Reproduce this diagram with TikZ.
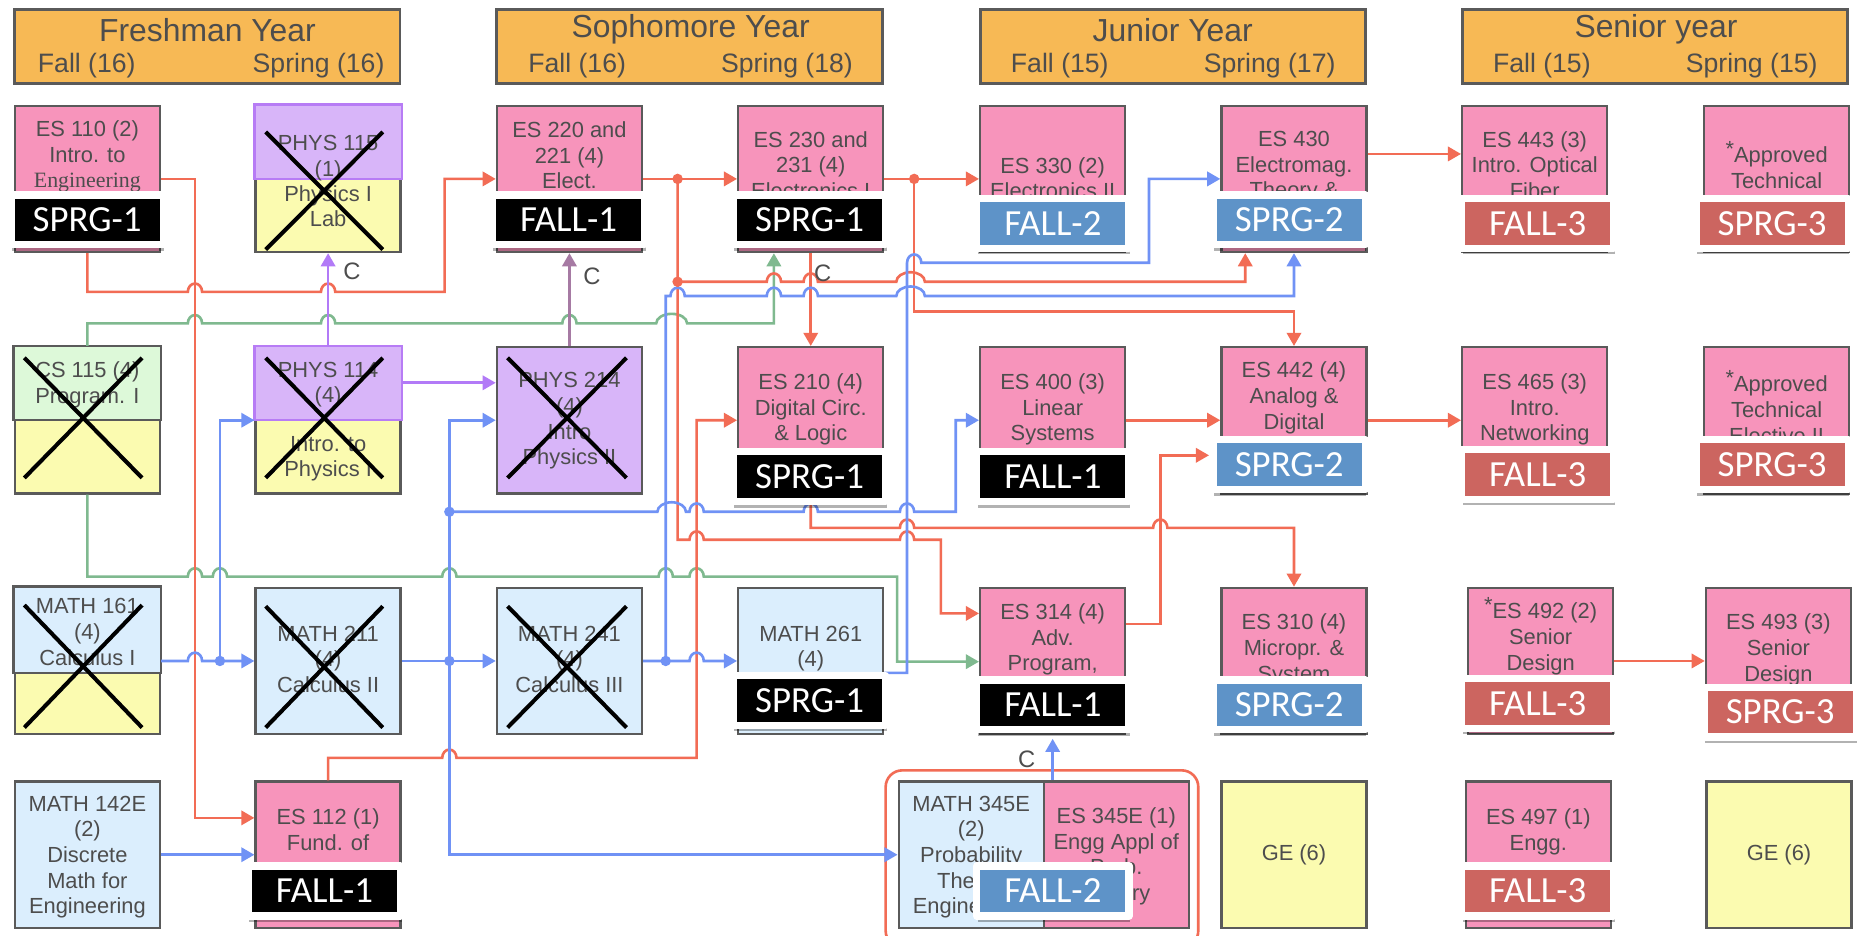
\documentclass[tikz,border=0pt]{standalone}
\usepackage{fontspec}
\setmainfont{Liberation Sans}
\newfontfamily\etiq{Carlito}
\newfontfamily\fserif{Liberation Serif}
\usepackage{xcolor}
\usetikzlibrary{arrows.meta,shadows}

\definecolor{naranja}{HTML}{F7B955}
\definecolor{rosa}{HTML}{F794BB}
\definecolor{celeste}{HTML}{DBEEFD}
\definecolor{amarillo}{HTML}{FBFBB0}
\definecolor{verdeclaro}{HTML}{DDF9D9}
\definecolor{lila}{HTML}{D8B5F9}
\definecolor{borde}{HTML}{5A5A5A}
\definecolor{bordelila}{HTML}{B77CF5}
\definecolor{gristxt}{HTML}{4D4D4D}
\definecolor{rojo}{HTML}{F26C55}
\definecolor{azul}{HTML}{7092F5}
\definecolor{verde}{HTML}{7FB98F}
\definecolor{morado}{HTML}{B27AF7}
\definecolor{malva}{HTML}{A67AA3}
\definecolor{tagazul}{HTML}{5E93C8}
\definecolor{tagrojo}{HTML}{CC6560}

\begin{document}
\begin{tikzpicture}[x=0.5pt,y=-0.5pt,
  >={Triangle[length=5.5pt,width=6pt]},
  caja/.style={draw=borde, line width=1pt, fill=#1, minimum width=61pt,
    minimum height=61.5pt, inner sep=0pt},
  encab/.style={draw=borde, line width=1.2pt, fill=naranja,
    minimum width=162pt, minimum height=31pt, inner sep=0pt},
  txt/.style={anchor=north, align=center, inner sep=0pt, text=gristxt,
    font=\fontsize{9.2}{10.8}\selectfont},
  tit/.style={inner sep=0pt, text=gristxt, font=\fontsize{13.4}{15}\selectfont},
  sub/.style={inner sep=0pt, text=gristxt, font=\fontsize{11.2}{13}\selectfont},
  etiqueta/.style={fill=#1, draw=white, line width=3pt, line join=round,
    text=white, font=\etiq\fontsize{15.5}{17}\selectfont,
    minimum width=64pt, minimum height=21pt, inner sep=0pt,
    drop shadow={shadow xshift=0.4pt, shadow yshift=-2.5pt, opacity=0.3, fill=black}},
  ce/.style={inner sep=0pt, text=gristxt, font=\fontsize{10}{12}\selectfont},
  cruz/.style={line width=1.7pt, black},
  linea/.style={line width=1.1pt, #1},
  salto/.style 2 args={insert path={-- ({#1-6},#2)
    arc[start angle=180, end angle=0, x radius=3pt, y radius=3.5pt]}},
  saltoancho/.style n args={3}{insert path={-- ({#1-2*#3},#2)
    arc[start angle=180, end angle=0, x radius=#3pt, y radius=4pt]}}]

  \useasboundingbox (0,0) rectangle (1568,787);
  \fill[white] (0,0) rectangle (1568,787);

  % Encabezados
  \node[encab] (fresh) at (174.5,39) {};
  \node[tit] (fresh-t) at (174.5,25) {Freshman Year};
  \node[sub] (fresh-f) at (73,55) {Fall (16)};
  \node[sub] (fresh-s) at (268,55) {Spring (16)};
  \node[encab] (soph) at (580,39) {};
  \node[tit] (soph-t) at (581,25) {Sophomore Year};
  \node[sub] (soph-f) at (485.5,55) {Fall (16)};
  \node[sub] (soph-s) at (662,55) {Spring (18)};
  \node[encab] (junior) at (986.5,39) {};
  \node[tit] (junior-t) at (986.5,25) {Junior Year};
  \node[sub] (junior-f) at (891.5,55) {Fall (15)};
  \node[sub] (junior-s) at (1068,55) {Spring (17)};
  \node[encab] (senior) at (1392,39) {};
  \node[tit] (senior-t) at (1393,25) {Senior year};
  \node[sub] (senior-f) at (1297,55) {Fall (15)};
  \node[sub] (senior-s) at (1473.5,55) {Spring (15)};

  % Cajas, primer año
  \node[caja=rosa] (es110) at (73.5,150.5) {};
  \node[txt] (es110-t) at (73.5,101) {ES 110 (2)\\Intro. to\\{\fserif Engineering}};
  \node[caja=amarillo] (phys115) at (276,150.5) {};
  \draw[line width=1pt, draw=bordelila, fill=lila] (phys115.north west) rectangle (phys115.east);
  \node[txt] (phys115-t) at (276,113.6) {PHYS 115\\(1)};
  \node[txt] (phys115-b) at (276,155.6) {Physics I\\Lab};
  \node[caja=amarillo] (cs115) at (73.5,353.5) {};
  \draw[line width=1pt, draw=borde, fill=verdeclaro] (cs115.north west) rectangle (cs115.east);
  \node[txt] (cs115-t) at (73.5,304) {CS 115 (4)\\Program. I};
  \node[caja=amarillo] (phys114) at (276,353.5) {};
  \draw[line width=1pt, draw=bordelila, fill=lila] (phys114.north west) rectangle (phys114.east);
  \node[txt] (phys114-t) at (276,304) {PHYS 114\\(4)};
  \node[txt] (phys114-b) at (276,366.4) {Intro. to\\Physics I};
  \node[caja=amarillo] (math161) at (73.5,556) {};
  \draw[line width=1pt, draw=borde, fill=celeste] (math161.north west) rectangle ([yshift=-5pt]math161.east);
  \node[txt] (math161-t) at (73.5,503) {MATH 161\\(4)\\Calculus I};
  \node[caja=celeste] (math211) at (276,556) {};
  \node[txt] (math211-t) at (276,526) {MATH 211\\(4)\\Calculus II};
  \node[caja=celeste] (math142e) at (73.5,719) {};
  \node[txt] (math142e-t) at (73.5,669) {MATH 142E\\(2)\\Discrete\\Math for\\Engineering};
  \node[caja=rosa] (es112) at (276,719) {};
  \node[txt] (es112-t) at (276,680) {ES 112 (1)\\Fund. of};

  % Cajas, segundo año
  \node[caja=rosa] (es220) at (479,150.5) {};
  \node[txt] (es220-t) at (479,102) {ES 220 and\\221 (4)\\Elect.};
  \node[caja=rosa] (es230) at (682,150.5) {};
  \node[txt] (es230-t) at (682,110) {ES 230 and\\231 (4)\\Electronics I};
  \node[caja=lila] (phys214) at (479,353.5) {};
  \node[txt] (phys214-t) at (479,313) {PHYS 214\\(4)\\Intro\\Physics II};
  \node[caja=rosa] (es210) at (682,353.5) {};
  \node[txt] (es210-t) at (682,314) {ES 210 (4)\\Digital Circ.\\\& Logic};
  \node[caja=celeste] (math241) at (479,556) {};
  \node[txt] (math241-t) at (479,526) {MATH 241\\(4)\\Calculus III};
  \node[caja=celeste] (math261) at (682,556) {};
  \node[txt] (math261-t) at (682,526) {MATH 261\\(4)};

  % Cajas, tercer año
  \node[caja=rosa] (es330) at (885.5,150.5) {};
  \node[txt] (es330-t) at (885.5,132) {ES 330 (2)\\Electronics II};
  \node[caja=rosa] (es400) at (885.5,353.5) {};
  \node[txt] (es400-t) at (885.5,314) {ES 400 (3)\\Linear\\Systems};
  \node[caja=rosa] (es314) at (885.5,556) {};
  \node[txt] (es314-t) at (885.5,507.5) {ES 314 (4)\\Adv.\\Program,};
  \node[caja=celeste] (math345e) at (817,719) {};
  \node[txt] (math345e-t) at (817,669) {MATH 345E\\(2)\\Probability\\Theory\\Engineering};
  \node[caja=rosa] (es345e) at (939,719) {};
  \node[txt] (es345e-t) at (939,679) {ES 345E (1)\\Engg Appl of\\Prob.\\Theory};
  \node[caja=rosa] (es430) at (1088.5,150.5) {};
  \node[txt] (es430-t) at (1088.5,110) {ES 430\\Electromag.\\Theory \&};
  \node[caja=rosa] (es442) at (1088.5,353.5) {};
  \node[txt] (es442-t) at (1088.5,304) {ES 442 (4)\\Analog \&\\Digital};
  \node[caja=rosa] (es310) at (1088.5,556) {};
  \node[txt] (es310-t) at (1088.5,516) {ES 310 (4)\\Micropr. \&\\System};
  \node[caja=amarillo] (ge1) at (1088.5,719) {};
  \node[txt, anchor=center] (ge1-t) at (1088.5,719) {GE (6)};

  % Cajas, cuarto año
  \node[caja=rosa] (es443) at (1291,150.5) {};
  \node[txt] (es443-t) at (1291,110) {ES 443 (3)\\Intro. Optical\\Fiber};
  \node[caja=rosa] (es465) at (1291,353.5) {};
  \node[txt] (es465-t) at (1291,314) {ES 465 (3)\\Intro.\\Networking};
  \node[caja=rosa] (es492) at (1296,556) {};
  \node[txt] (es492-t) at (1296,502.5) {\raisebox{2.5pt}{*}ES 492 (2)\\Senior\\Design};
  \node[caja=rosa] (es497) at (1294,719) {};
  \node[txt] (es497-t) at (1294,680) {ES 497 (1)\\Engg.};
  \node[caja=rosa] (app1) at (1494.5,150.5) {};
  \node[txt] (app1-t) at (1494.5,119) {\raisebox{2.5pt}{*}Approved\\Technical};
  \node[caja=rosa] (app2) at (1494.5,353.5) {};
  \node[txt] (app2-t) at (1494.5,311.5) {\raisebox{2.5pt}{*}Approved\\Technical\\Elective II};
  \node[caja=rosa] (es493) at (1496,556) {};
  \node[txt] (es493-t) at (1496,516) {ES 493 (3)\\Senior\\Design};
  \node[caja=amarillo] (ge2) at (1496.5,719) {};
  \node[txt, anchor=center] (ge2-t) at (1496.5,719) {GE (6)};

  % Cursos tachados
  \draw[cruz] ([shift={(9.5,23)}]phys115.north west) -- ([shift={(-16,-3)}]phys115.south east)
              ([shift={(-16,23)}]phys115.north east) -- ([shift={(9.5,-3)}]phys115.south west);
  \draw[cruz] ([shift={(9,10)}]cs115.north west) -- ([shift={(-16,-14)}]cs115.south east)
              ([shift={(-16,10)}]cs115.north east) -- ([shift={(9,-14)}]cs115.south west);
  \draw[cruz] ([shift={(9.5,10)}]phys114.north west) -- ([shift={(-16,-14)}]phys114.south east)
              ([shift={(-16,10)}]phys114.north east) -- ([shift={(9.5,-14)}]phys114.south west);
  \draw[cruz] ([shift={(10,10)}]phys214.north west) -- ([shift={(-14,-14)}]phys214.south east)
              ([shift={(-14,10)}]phys214.north east) -- ([shift={(10,-14)}]phys214.south west);
  \draw[cruz] ([shift={(9,15.5)}]math161.north west) -- ([shift={(-16,-6.5)}]math161.south east)
              ([shift={(-16,15.5)}]math161.north east) -- ([shift={(9,-6.5)}]math161.south west);
  \draw[cruz] ([shift={(9.5,16.5)}]math211.north west) -- ([shift={(-16,-6.5)}]math211.south east)
              ([shift={(-16,16.5)}]math211.north east) -- ([shift={(9.5,-6.5)}]math211.south west);
  \draw[cruz] ([shift={(10,16.5)}]math241.north west) -- ([shift={(-14,-6.5)}]math241.south east)
              ([shift={(-14,16.5)}]math241.north east) -- ([shift={(10,-6.5)}]math241.south west);

  % Grupo MATH 345E / ES 345E
  \draw[linea=rojo, rounded corners=7pt] (745,648) rectangle (1008,797);

  % Conexiones verdes
  \draw[linea=verde,->] (cs115.north) -- (73.5,272) [salto={164}{272}] [salto={276}{272}]
    [salto={479}{272}] [saltoancho={565}{272}{6.5}] -- (651,272) -- (651,272 |- es230.south);
  \draw[linea=verde,->] (cs115.south) -- (73.5,485) [salto={164}{485}] [salto={185}{485}]
    [salto={378}{485}] [salto={560}{485}] [salto={586}{485}] -- (754.6,485) -- (754.6,556.6)
    -- (es314.west |- 754.6,556.6);

  % Conexiones rojas
  \coordinate (je) at (570,150.5);
  \coordinate (jf) at (570,237);
  \coordinate (jg) at (769,150.5);
  \coordinate (f442) at (1017,383);
  \draw[linea=rojo,->] (es110.south) -- (73.5,245.5) [salto={164}{245.5}] [salto={276}{245.5}]
    -- (374,245.5) -- (374,150.5) -- (es220.west);
  \draw[linea=rojo,->] (es110.east) -- (164,150.5) -- (164,688) -- (es112.west |- 164,688);
  \draw[linea=rojo,->] (es220.east) -- (es230.west);
  \draw[linea=rojo,->] (je) -- (570,454) [salto={586}{454}] [salto={763}{454}] -- (791.5,454)
    -- (791.5,516) -- (es314.west |- 791.5,516);
  \draw[linea=rojo,->] (jf) [salto={651}{237}] [salto={682}{237}] [saltoancho={766}{237}{6}]
    -- (1047.5,237) -- (1047.5,237 |- es430.south);
  \draw[linea=rojo,->] (es230.east) -- (es330.west);
  \draw[linea=rojo,->] (jg) -- (769,262) -- (1088.5,262) -- (es442.north);
  \draw[linea=rojo,->] (es230.south) -- (es210.north);
  \draw[linea=rojo,->] (es210.south) -- (682,444) [salto={763}{444}] [salto={976}{444}]
    -- (1088.5,444) -- (es310.north);
  \draw[linea=rojo,->] (es112.north) -- (276,637.5) [salto={378}{637.5}] -- (586,637.5)
    -- (586,353.5) -- (es210.west);
  \draw[linea=rojo,->] ([yshift=15.5pt]es314.east) -- (976,525) -- (976,383) -- (f442);
  \draw[linea=rojo,->] (es400.east) -- (es442.west);
  \draw[linea=rojo,->] (es442.east) -- (es465.west);
  \draw[linea=rojo,->] ([yshift=10.5pt]es430.east) -- ([yshift=10.5pt]es443.west);
  \draw[linea=rojo,->] (es492.east) -- (es493.west);

  % Conexiones azules
  \coordinate (ja) at (185,556);
  \coordinate (jb) at (378,556);
  \coordinate (jc) at (378,430.5);
  \coordinate (jd) at (560,556);
  \draw[linea=azul,->] (math161.east) [salto={164}{556}] -- (math211.west);
  \draw[linea=azul,->] (ja) -- (ja |- phys114.west) -- (phys114.west);
  \draw[linea=azul,->] (math211.east) -- (math241.west);
  \draw[linea=azul,->] (jb) -- (jb |- phys214.west) -- (phys214.west);
  \draw[linea=azul,->] (jb) -- (jb |- math345e.west) -- (math345e.west);
  \draw[linea=azul,->] (jc) [saltoancho={565}{430.5}{6}] [salto={586}{430.5}] [salto={682}{430.5}]
    [salto={763}{430.5}] -- (804,430.5) -- (804,353.5) -- (es400.west);
  \draw[linea=azul,->] (math241.east) [salto={586}{556}] -- (math261.west);
  \draw[linea=azul,->] (jd) -- (560,249) [salto={570}{249}] [salto={651}{249}] [salto={682}{249}]
    [saltoancho={766}{249}{6}] -- (1088.5,249) -- (es430.south);
  \draw[linea=azul,->] ([yshift=-5pt]math261.east) -- (763,566) -- (763,221) [salto={769}{221}]
    -- (966.5,221) -- (966.5,150.5) -- (es430.west);
  \draw[linea=azul,->] (math142e.east) -- (es112.west);
  \draw[linea=azul,->] (es314.south |- es345e.north) -- ([yshift=-1.5pt]es314.south);

  % Conexiones de física
  \draw[linea=morado,->] (phys114.north) -- (phys115.south);
  \draw[linea=morado,->] (phys114.east |- 0,322) -- (phys214.west |- 0,322);
  \draw[linea=malva,->] (phys214.north) -- (es220.south);

  % Puntos de unión
  \fill[rojo] (je) circle (2.2pt);
  \fill[rojo] (jf) circle (2.2pt);
  \fill[rojo] (jg) circle (2.2pt);
  \fill[azul] (ja) circle (2.2pt);
  \fill[azul] (jb) circle (2.2pt);
  \fill[azul] (jc) circle (2.2pt);
  \fill[azul] (jd) circle (2.2pt);

  % Etiquetas C
  \node[ce] (c1) at (296,228.5) {C};
  \node[ce] (c2) at (498,232.7) {C};
  \node[ce] (c3) at (692,230) {C};
  \node[ce] (c4) at (863.7,639) {C};

  % Etiquetas de semestre
  \node[etiqueta=black] (es110-e) at (73.3,185) {SPRG-1};
  \node[etiqueta=black] (es220-e) at (478.3,185) {FALL-1};
  \node[etiqueta=black] (es230-e) at (681,185) {SPRG-1};
  \node[etiqueta=tagazul] (es330-e) at (885.7,188) {FALL-2};
  \node[etiqueta=tagazul] (es430-e) at (1084.5,185) {SPRG-2};
  \node[etiqueta=tagrojo] (es443-e) at (1293.5,188) {FALL-3};
  \node[etiqueta=tagrojo] (app1-e) at (1490.7,188) {SPRG-3};
  \node[etiqueta=black] (es210-e) at (681,401) {SPRG-1};
  \node[etiqueta=black] (es400-e) at (885.7,401) {FALL-1};
  \node[etiqueta=tagazul] (es442-e) at (1084.5,391) {SPRG-2};
  \node[etiqueta=tagrojo] (es465-e) at (1293.5,399) {FALL-3};
  \node[etiqueta=tagrojo] (app2-e) at (1490.7,391) {SPRG-3};
  \node[etiqueta=black] (math261-e) at (681,589) {SPRG-1};
  \node[etiqueta=black] (es314-e) at (885.7,593) {FALL-1};
  \node[etiqueta=tagazul] (es310-e) at (1084.5,593) {SPRG-2};
  \node[etiqueta=tagrojo] (es492-e) at (1293.5,591.5) {FALL-3};
  \node[etiqueta=tagrojo] (es493-e) at (1497.5,599) {SPRG-3};
  \node[etiqueta=black] (es112-e) at (273,749.5) {FALL-1};
  \node[etiqueta=tagazul] (math345e-e) at (885.7,749.5) {FALL-2};
  \node[etiqueta=tagrojo] (es497-e) at (1293.5,749.5) {FALL-3};
\end{tikzpicture}
\end{document}
